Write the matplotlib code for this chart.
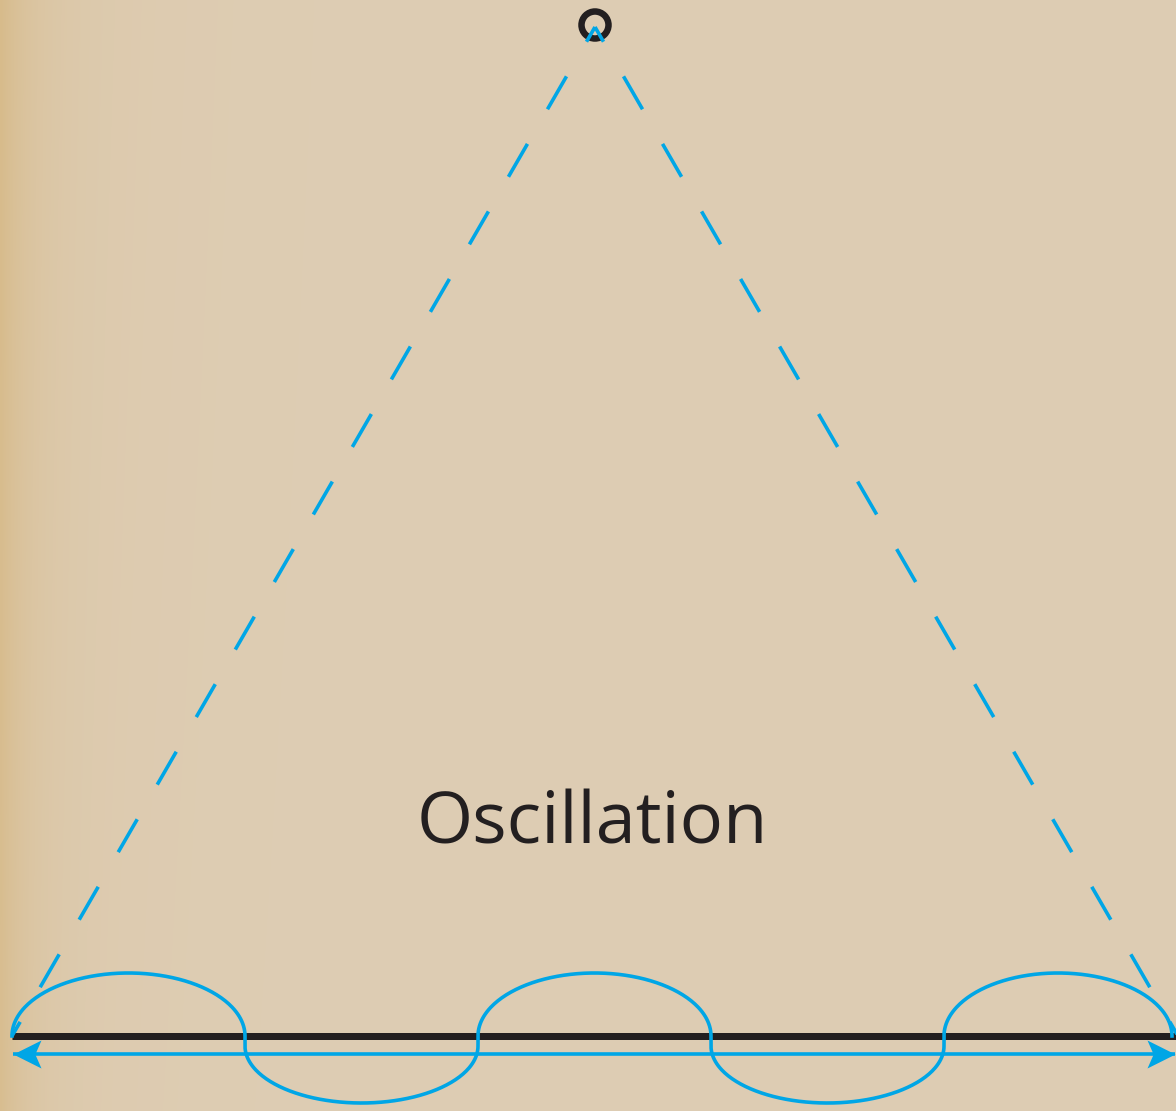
import numpy as np
import matplotlib
matplotlib.use("Agg")
import matplotlib.pyplot as plt
from matplotlib.patches import Circle
from matplotlib.path import Path

# ---- diagram data (pixel space of the 1176x1111 canvas) ----
pivot = (595, 25)
pivot_radius = 13.5
string_ends_x = [12, 1178]
baseline_y = 1036
baseline_x = [12, 1176]
arrow_y = 1054
arrow_x = [13, 1175]
loop_bounds_x = [12, 245, 478, 711, 944, 1172]
loop_extreme_y = [973, 1103, 973, 1103, 973]
label = "Oscillation"
label_pos = (592, 825)

BLUE = "#00A6E6"
BLACK = "#231F20"

W, H = 1176, 1111
fig = plt.figure(figsize=(W / 100, H / 100), dpi=100)
ax = fig.add_axes([0, 0, 1, 1])
ax.set_xlim(0, W)
ax.set_ylim(H, 0)
ax.axis("off")

# parchment background (smooth gradient)
xx = np.linspace(0, 1, 400)[None, :]
yy = np.linspace(0, 1, 400)[:, None]
base = np.array([222, 205, 180]) / 255.0
edge = np.array([214, 184, 132]) / 255.0
w = 0.55 * np.exp(-xx / 0.025) + 0.3 * np.exp(-xx / 0.1) * (1 - yy * 0.4)
w = np.clip(w, 0, 1)[..., None]
img = base * (1 - w) + edge * w
ax.imshow(img, extent=[0, W, H, 0], aspect="auto", zorder=0, interpolation="bilinear")

px = 0.72  # points per pixel
lw_blue = 3.6 * px

# pivot ring
ax.add_patch(Circle(pivot, pivot_radius, fill=False, lw=6.5 * px, ec=BLACK, zorder=3))

# dashed strings (dash lengths given in points, divided by lw since matplotlib scales them)
on, off, offs = 38 * px / lw_blue, 40 * px / lw_blue, 21 * px / lw_blue
for ex in string_ends_x:
    ax.plot([pivot[0], ex], [pivot[1] + 2, baseline_y], color=BLUE, lw=lw_blue,
            linestyle=(offs, (on, off)), zorder=4, dash_capstyle="butt")

# baseline
ax.plot(baseline_x, [baseline_y, baseline_y], color=BLACK, lw=7 * px,
        solid_capstyle="butt", zorder=2)

# double arrow
ax.plot(arrow_x, [arrow_y, arrow_y], color=BLUE, lw=lw_blue, zorder=3,
        solid_capstyle="butt")
head = Path([(0, 0), (1, 0.5), (0.78, 0), (1, -0.5), (0, 0)],
            [Path.MOVETO, Path.LINETO, Path.LINETO, Path.LINETO, Path.CLOSEPOLY])
head_r = Path([(0, 0), (-1, 0.5), (-0.78, 0), (-1, -0.5), (0, 0)],
              [Path.MOVETO, Path.LINETO, Path.LINETO, Path.LINETO, Path.CLOSEPOLY])
ms = 28 * px * 2
ax.plot([arrow_x[0]], [arrow_y], marker=head, ms=ms, color=BLUE, mew=0, zorder=3)
ax.plot([arrow_x[1]], [arrow_y], marker=head_r, ms=ms, color=BLUE, mew=0, zorder=3)

# oscillation loops
xs, ys = [], []
gap = 10
for i in range(len(loop_extreme_y)):
    x0, x1 = loop_bounds_x[i], loop_bounds_x[i + 1]
    cx, a = (x0 + x1) / 2, (x1 - x0) / 2
    t = np.linspace(np.pi, 0, 160)
    up = loop_extreme_y[i] < baseline_y
    if up:
        cy = baseline_y
        b = baseline_y - loop_extreme_y[i]
        segx = cx + a * np.cos(t)
        segy = cy - b * np.sin(t)
    else:
        cy = baseline_y + gap
        b = loop_extreme_y[i] - cy
        segx = cx + a * np.cos(t)
        segy = cy + b * np.sin(t)
        segx = np.concatenate([[x0], segx, [x1]])
        segy = np.concatenate([[baseline_y], segy, [baseline_y]])
    xs.append(segx)
    ys.append(segy)
ax.plot(np.concatenate(xs), np.concatenate(ys), color=BLUE, lw=lw_blue, zorder=5)

# label
ax.text(label_pos[0], label_pos[1], label, ha="center", va="center",
        fontsize=52, family=["Open Sans", "DejaVu Sans"], color=BLACK, zorder=6)

fig.savefig("out.png", dpi=100)
